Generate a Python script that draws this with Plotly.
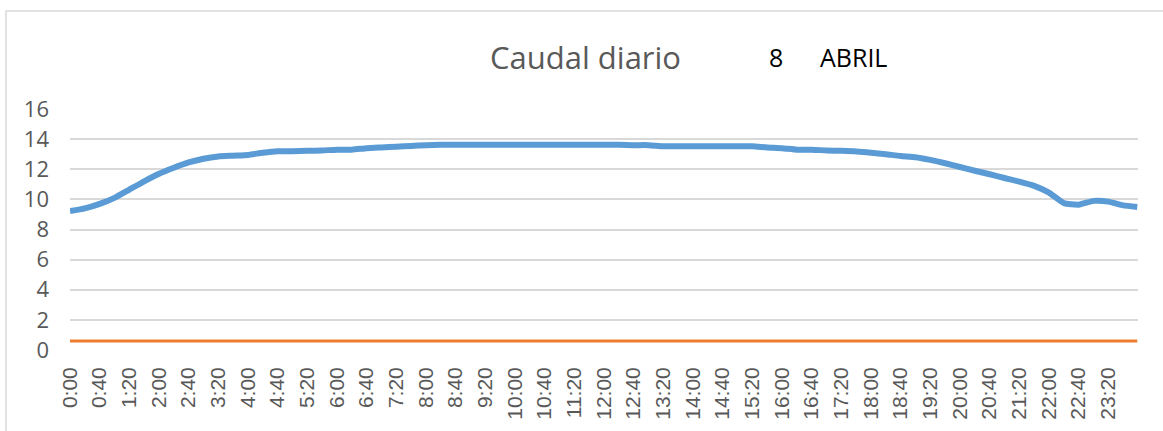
import plotly.graph_objects as go

DAY = "2024-04-08"

# Daily flow readings (time of day, flow)
flow_times = [
    "0:00", "0:20", "0:40", "1:00", "1:20", "1:40", "2:00", "2:20", "2:40", "3:00",
    "3:20", "3:40", "4:00", "4:20", "4:40", "5:00", "5:20", "5:40", "6:00", "6:20",
    "6:40", "7:00", "7:20", "7:40", "8:00", "8:20", "8:40", "9:00", "9:20", "9:40",
    "10:00", "10:20", "10:40", "11:00", "11:20", "11:40", "12:00", "12:20", "12:40", "13:00",
    "13:20", "13:40", "14:00", "14:20", "14:40", "15:00", "15:20", "15:40", "16:00", "16:20",
    "16:40", "17:00", "17:20", "17:40", "18:00", "18:20", "18:40", "19:00", "19:20", "19:40",
    "20:00", "20:20", "20:40", "21:00", "21:20", "21:40", "22:00", "22:20", "22:40", "23:00",
    "23:20", "23:40", "23:59",
]
flow_values = [
    9.22, 9.40, 9.70, 10.10, 10.65, 11.20, 11.70, 12.10, 12.45, 12.70,
    12.85, 12.90, 12.95, 13.10, 13.20, 13.20, 13.22, 13.25, 13.30, 13.30,
    13.40, 13.45, 13.50, 13.55, 13.60, 13.62, 13.62, 13.62, 13.62, 13.62,
    13.62, 13.62, 13.62, 13.62, 13.62, 13.62, 13.62, 13.62, 13.60, 13.60,
    13.53, 13.53, 13.53, 13.53, 13.53, 13.53, 13.53, 13.45, 13.40, 13.30,
    13.30, 13.25, 13.22, 13.18, 13.10, 13.00, 12.88, 12.80, 12.62, 12.40,
    12.15, 11.90, 11.67, 11.42, 11.18, 10.90, 10.45, 9.75, 9.65, 9.90,
    9.85, 9.60, 9.50,
]

# Reference level
ref_times = ["0:00", "23:59"]
ref_values = [0.6, 0.6]

# Axis labels
tick_labels = [
    "0:00", "0:40", "1:20", "2:00", "2:40", "3:20", "4:00", "4:40", "5:20", "6:00",
    "6:40", "7:20", "8:00", "8:40", "9:20", "10:00", "10:40", "11:20", "12:00", "12:40",
    "13:20", "14:00", "14:40", "15:20", "16:00", "16:40", "17:20", "18:00", "18:40", "19:20",
    "20:00", "20:40", "21:20", "22:00", "22:40", "23:20",
]
y_ticks = [0, 2, 4, 6, 8, 10, 12, 14, 16]


def stamp(t):
    return f"{DAY} {t}"


fig = go.Figure()
fig.add_trace(go.Scatter(
    x=[stamp(t) for t in ref_times], y=ref_values, mode="lines",
    line=dict(color="#ED7D31", width=3), hoverinfo="skip",
))
fig.add_trace(go.Scatter(
    x=[stamp(t) for t in flow_times], y=flow_values, mode="lines",
    line=dict(color="#5B9BD5", width=6, shape="spline", smoothing=0.5),
))

W, H = 1163, 431
L, R, T, B = 70, 25, 109, 81
pw, ph = W - L - R, H - T - B


def px(x):
    return (x - L) / pw


def py(y):
    return (H - B - y) / ph


fig.update_layout(
    width=W, height=H,
    margin=dict(l=L, r=R, t=T, b=B),
    paper_bgcolor="white", plot_bgcolor="white",
    showlegend=False,
    xaxis=dict(
        type="date",
        range=[stamp("0:00"), "2024-04-09 00:00"],
        tickvals=[stamp(t) for t in tick_labels],
        ticktext=tick_labels,
        tickangle=-90,
        showgrid=False, showline=False, zeroline=False,
        ticks="", ticklabelstandoff=12,
        tickfont=dict(family="Liberation Sans, Arial", size=21, color="#595959"),
    ),
    yaxis=dict(
        range=[0, 16], tickvals=y_ticks,
        showgrid=True, gridcolor="#D9D9D9", gridwidth=2,
        zeroline=False, showline=False, ticks="",
        ticklabelstandoff=20,
        tickfont=dict(family="Open Sans", size=22, color="#595959"),
    ),
    shapes=[dict(
        type="rect", xref="paper", yref="paper",
        x0=px(6), x1=px(1175), y0=py(445), y1=py(11),
        line=dict(color="#D9D9D9", width=1.5), layer="below",
    )],
    annotations=[
        dict(text="Caudal diario", xref="paper", yref="paper",
             x=px(585), y=py(57), xanchor="center", yanchor="middle", showarrow=False,
             font=dict(family="Open Sans", size=31, color="#595959")),
        dict(text="8", xref="paper", yref="paper",
             x=px(776), y=py(57), xanchor="center", yanchor="middle", showarrow=False,
             font=dict(family="Open Sans", size=25, color="#000000")),
        dict(text="ABRIL", xref="paper", yref="paper",
             x=px(853), y=py(57), xanchor="center", yanchor="middle", showarrow=False,
             font=dict(family="Open Sans", size=25, color="#000000")),
    ],
)

fig.write_html("out.html")
